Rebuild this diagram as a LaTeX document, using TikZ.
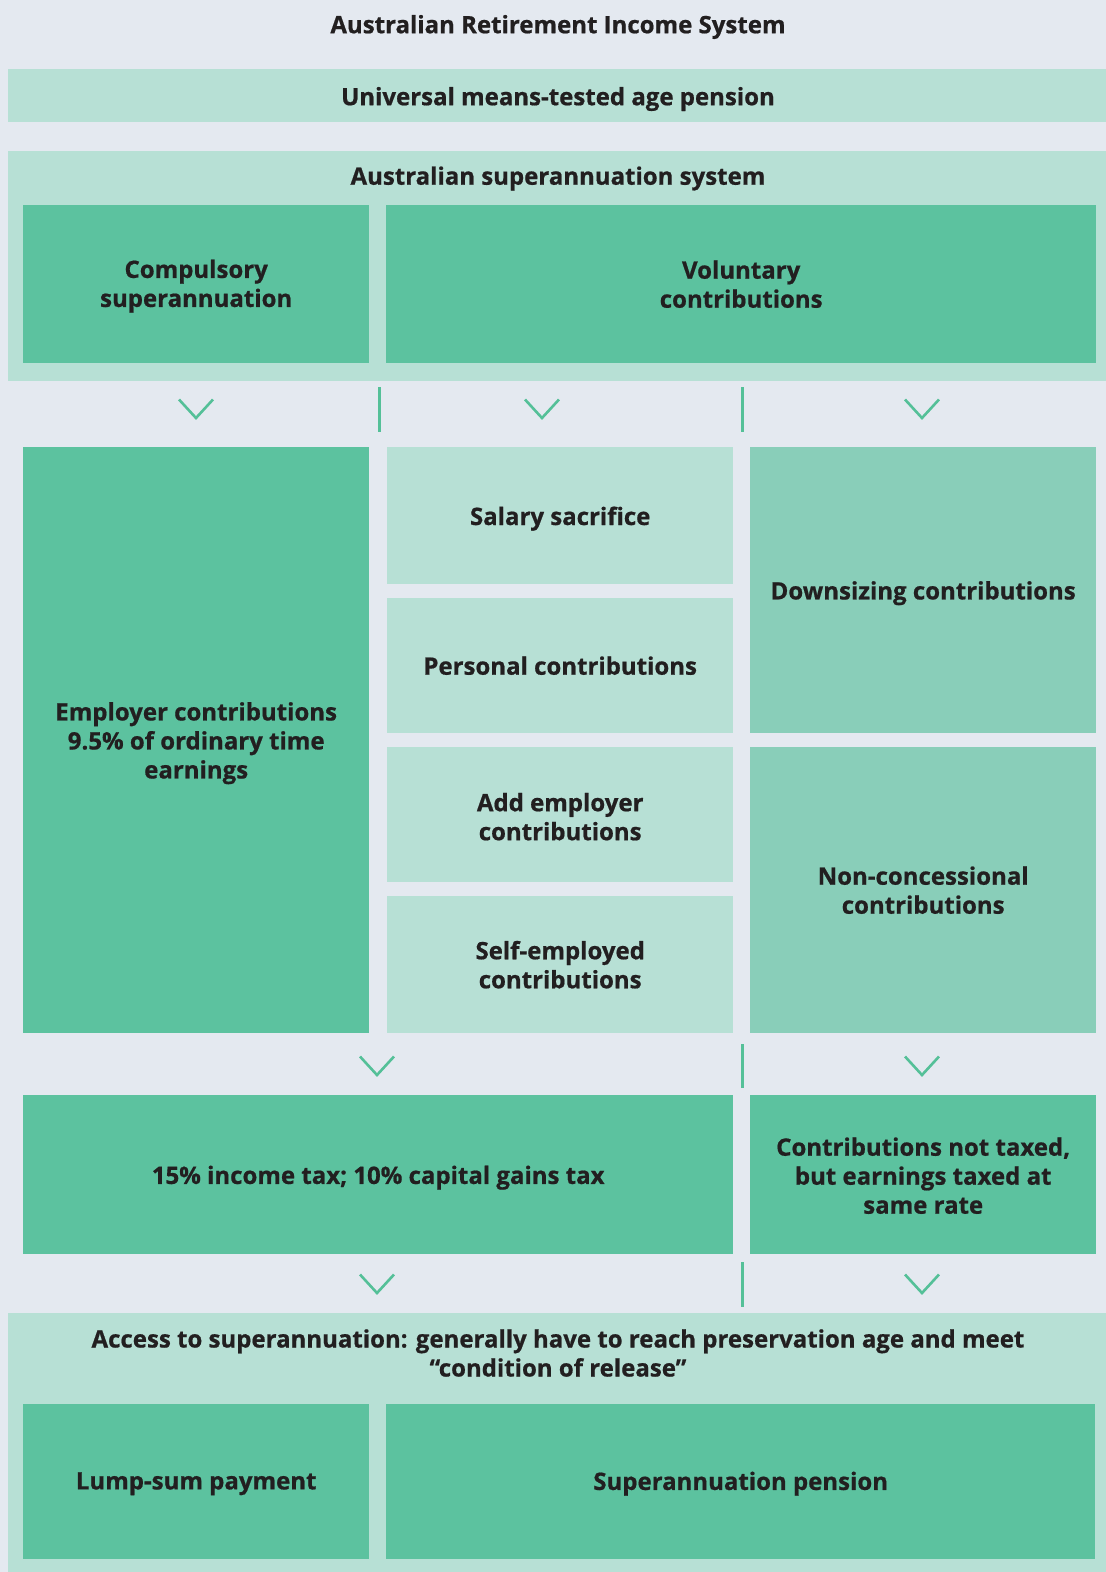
\documentclass[tikz,border=0pt]{standalone}
\usepackage{fontspec}
\setmainfont{Open Sans}[BoldFeatures={FakeBold=0.7}]
\definecolor{bgc}{RGB}{228,233,240}
\definecolor{lightg}{RGB}{183,224,213}
\definecolor{darkg}{RGB}{92,194,159}
\definecolor{midg}{RGB}{137,206,185}
\definecolor{linec}{RGB}{84,192,152}
\definecolor{txt}{RGB}{34,31,32}
\begin{document}
\begin{tikzpicture}[x=1pt,y=-1pt,
  every node/.style={font=\fontsize{24}{29}\selectfont\bfseries, text=txt, inner sep=0pt, align=center},
  every label/.style={font=\fontsize{24}{29}\selectfont\bfseries, text=txt, align=center, yshift=-3pt},
  band/.style={fill=lightg, anchor=north west, draw=none},
  dbox/.style={fill=darkg, anchor=north west},
  lbox/.style={fill=lightg, anchor=north west},
  mbox/.style={fill=midg, anchor=north west},
  chev/.style={draw=linec, line width=2.6pt},
  sepline/.style={draw=linec, line width=3pt},
  lbl/.style={anchor=center}
]
\fill[bgc] (0,0) rectangle (1106,1572);
\useasboundingbox (0,0) rectangle (1106,1572);

\node[lbl] (title) at (558,27) {Australian Retirement Income System};

\node[band, minimum width=1098pt, minimum height=53pt] (pension) at (8,69) {};
\node[lbl] (pensionlbl) at (558,99) {Universal means-tested age pension};

\node[band, minimum width=1098pt, minimum height=230pt] (super) at (8,151) {};
\node[lbl] (superlbl) at (558,178.5) {Australian superannuation system};

\node[dbox, minimum width=346pt, minimum height=158pt, label={[yshift=1pt]center:{Compulsory\\superannuation}}] (comp) at (23,205) {};
\node[dbox, minimum width=710pt, minimum height=158pt, label={[yshift=3pt]center:{Voluntary\\contributions}}] (vol) at (386,205) {};

\foreach \cx/\cy in {196/409, 542/409, 922/409, 377/1066, 922/1066, 377/1284, 922/1284}{
  \draw[chev] (\cx-17,\cy-9.5) -- (\cx,\cy+9) -- (\cx+17,\cy-9.5);
}
\draw[sepline] (379,387) -- (379,432);
\draw[sepline] (742,387) -- (742,432);
\draw[sepline] (742,1044) -- (742,1088);
\draw[sepline] (742,1262) -- (742,1307);

\node[dbox, minimum width=346pt, minimum height=586pt, label={center:{Employer contributions\\9.5\% of ordinary time\\earnings}}] (emp) at (23,447) {};

\node[lbox, minimum width=346pt, minimum height=137pt, label={center:{Salary sacrifice}}] (salary) at (387,447) {};
\node[lbox, minimum width=346pt, minimum height=135pt, label={[yshift=3pt]center:{Personal contributions}}] (personal) at (387,598) {};
\node[lbox, minimum width=346pt, minimum height=135pt, label={[yshift=1pt]center:{Add employer\\contributions}}] (addemp) at (387,747) {};
\node[lbox, minimum width=346pt, minimum height=137pt, label={[yshift=3pt]center:{Self-employed\\contributions}}] (selfemp) at (387,896) {};

\node[mbox, minimum width=346pt, minimum height=286pt, label={center:{Downsizing contributions}}] (down) at (750,447) {};
\node[mbox, minimum width=346pt, minimum height=286pt, label={[yshift=3pt]center:{Non-concessional\\contributions}}] (noncon) at (750,747) {};

\node[dbox, minimum width=710pt, minimum height=159pt, label={center:{15\% income tax; 10\% capital gains tax}}] (tax) at (23,1095) {};
\node[dbox, minimum width=346pt, minimum height=159pt, label={[yshift=2pt]center:{Contributions not taxed,\\but earnings taxed at\\same rate}}] (notax) at (750,1095) {};

\node[band, minimum width=1098pt, minimum height=259pt] (access) at (8,1313) {};
\node[lbl] (accesslbl) at (558,1353) {Access to superannuation: generally have to reach preservation age and meet\\\textquotedblleft condition of release\textquotedblright};

\node[dbox, minimum width=346pt, minimum height=155pt, label={[yshift=1pt]center:{Lump-sum payment}}] (lump) at (23,1404) {};
\node[dbox, minimum width=709pt, minimum height=155pt, label={[yshift=1pt]center:{Superannuation pension}}] (pens2) at (386,1404) {};
\end{tikzpicture}
\end{document}
